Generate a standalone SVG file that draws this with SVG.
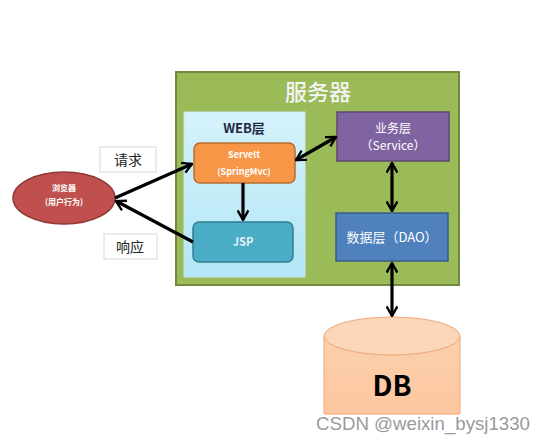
<svg xmlns="http://www.w3.org/2000/svg" width="547" height="446" viewBox="0 0 547 446">
<defs>
<style>
.cn{font-family:"Noto Sans CJK SC","Noto Sans",sans-serif}
.w{fill:#ffffff}
.b{font-weight:bold}
.arr{stroke:#000;stroke-width:3.2;fill:none}
</style>
<marker id="ah" viewBox="0 0 10 10" refX="9" refY="5" markerWidth="4" markerHeight="4" orient="auto-start-reverse" markerUnits="strokeWidth">
<polyline points="1.5,0.8 9,5 1.5,9.2" fill="none" stroke="#000" stroke-width="1.8"/>
</marker>
<linearGradient id="webg" x1="0" y1="0" x2="0" y2="1">
<stop offset="0" stop-color="#d5f2fb"/>
<stop offset="1" stop-color="#b2e6f6"/>
</linearGradient>
<linearGradient id="dbg" x1="0" y1="0" x2="0" y2="1">
<stop offset="0" stop-color="#fbd0ad"/>
<stop offset="1" stop-color="#fcc79f"/>
</linearGradient>
</defs>
<rect width="547" height="446" fill="#ffffff"/>
<g id="server">
<rect x="176" y="72" width="283" height="213" fill="#9bbb59" stroke="#71893f" stroke-width="2"/>
<text x="318" y="100" text-anchor="middle" class="cn" font-size="22" fill="#f4f4f4" font-weight="500">服务器</text>
</g>
<g id="web">
<rect x="184" y="112" width="121" height="165" fill="url(#webg)" stroke="#c8e8f0" stroke-width="1"/>
<text x="244" y="133" text-anchor="middle" class="cn b" font-size="13" fill="#1f2a44">WEB层</text>
</g>
<g id="servlet">
<rect x="194" y="143" width="101" height="40" rx="6" fill="#f79646" stroke="#b66d31" stroke-width="1.5"/>
<text x="244" y="158" text-anchor="middle" class="cn b w" font-size="9">Servelt</text>
<text x="244" y="175" text-anchor="middle" class="cn b w" font-size="9">(SpringMvc)</text>
</g>
<g id="jsp">
<rect x="193" y="222" width="100" height="40" rx="6" fill="#4bacc6" stroke="#357d91" stroke-width="1.5"/>
<text x="243" y="246" text-anchor="middle" class="cn b" font-size="11" fill="#e4f2f6">JSP</text>
</g>
<g id="service">
<rect x="337" y="112" width="112" height="49" fill="#8064a2" stroke="#5c4776" stroke-width="1.5"/>
<text x="393" y="133" text-anchor="middle" class="cn w" font-size="12">业务层</text>
<text x="393" y="150" text-anchor="middle" class="cn w" font-size="12">（Service）</text>
</g>
<g id="dao">
<rect x="336" y="213" width="112" height="48" fill="#4f81bd" stroke="#385d8a" stroke-width="1.5"/>
<text x="392" y="242" text-anchor="middle" class="cn w" font-size="13">数据层（DAO）</text>
</g>
<g id="browser">
<ellipse cx="64" cy="198" rx="51" ry="26" fill="#c0504d" stroke="#8c3836" stroke-width="1.5"/>
<text x="64" y="191" text-anchor="middle" class="cn b w" font-size="8">浏览器</text>
<text x="64" y="205" text-anchor="middle" class="cn b w" font-size="8">(用户行为)</text>
</g>
<g id="db">
<path d="M324,336 L324,414 L460,414 L460,336" fill="url(#dbg)" stroke="#f0a574" stroke-width="1"/>
<ellipse cx="392" cy="336" rx="68" ry="19" fill="#fbd6b8" stroke="#f0a574" stroke-width="1"/>
<text x="392" y="396" text-anchor="middle" class="cn b" font-size="28" fill="#000">DB</text>
</g>
<g id="label-request">
<rect x="100" y="147" width="56" height="25" fill="#ffffff" stroke="#d8d8d8" stroke-width="1"/>
<text x="128" y="165" text-anchor="middle" class="cn" font-size="14" fill="#222">请求</text>
</g>
<g id="label-response">
<rect x="104" y="234" width="53" height="25" fill="#ffffff" stroke="#d8d8d8" stroke-width="1"/>
<text x="130" y="252" text-anchor="middle" class="cn" font-size="14" fill="#222">响应</text>
</g>
<g id="connectors">
<line x1="115" y1="198" x2="192" y2="164" class="arr" marker-end="url(#ah)"/>
<line x1="193" y1="242" x2="116" y2="201" class="arr" marker-end="url(#ah)"/>
<line x1="243" y1="183" x2="243" y2="220" class="arr" marker-end="url(#ah)"/>
<line x1="296" y1="160" x2="336" y2="137" class="arr" marker-start="url(#ah)" marker-end="url(#ah)"/>
<line x1="392" y1="163" x2="392" y2="211" class="arr" marker-start="url(#ah)" marker-end="url(#ah)"/>
<line x1="392" y1="263" x2="392" y2="316" class="arr" marker-start="url(#ah)" marker-end="url(#ah)"/>
</g>
<text x="316" y="430" font-family="Liberation Sans,Arial,sans-serif" font-size="18" textLength="214" lengthAdjust="spacingAndGlyphs" fill="#9a9a9a">CSDN @weixin_bysj1330</text>
</svg>
